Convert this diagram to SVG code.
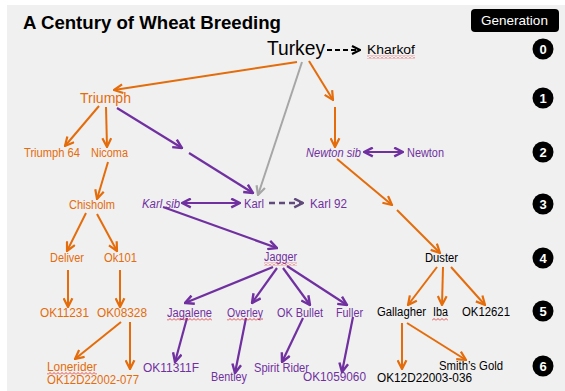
<svg xmlns="http://www.w3.org/2000/svg" width="565" height="391" viewBox="0 0 565 391">
<style>
text{font-family:"Liberation Sans",Arial,sans-serif;}
.t{font-size:12px;}
.o{fill:#E46C0A;}
.p{fill:#7030A0;}
.k{fill:#000;}
.i{font-style:italic;}
.lo{stroke:#E46C0A;stroke-width:2;fill:none;marker-end:url(#mo);}
.lp{stroke:#7030A0;stroke-width:2.2;fill:none;marker-end:url(#mp);}
.lpd{stroke:#7030A0;stroke-width:2.2;fill:none;marker-start:url(#mp);marker-end:url(#mp);}
.num{font-size:13px;font-weight:bold;fill:#fff;text-anchor:middle;}
.sq{fill:url(#squig);}
</style>
<defs>
<marker id="mo" viewBox="0 0 10 10" refX="9" refY="5" markerWidth="11" markerHeight="11" markerUnits="userSpaceOnUse" orient="auto-start-reverse"><path d="M1,1 L9,5 L1,9" fill="none" stroke="#E46C0A" stroke-width="2"/></marker>
<marker id="mp" viewBox="0 0 10 10" refX="9" refY="5" markerWidth="11" markerHeight="11" markerUnits="userSpaceOnUse" orient="auto-start-reverse"><path d="M1,1 L9,5 L1,9" fill="none" stroke="#7030A0" stroke-width="2.2"/></marker>
<marker id="mg" viewBox="0 0 10 10" refX="9" refY="5" markerWidth="11" markerHeight="11" markerUnits="userSpaceOnUse" orient="auto"><path d="M1,1 L9,5 L1,9" fill="none" stroke="#A6A6A6" stroke-width="2"/></marker>
<marker id="mk" viewBox="0 0 10 10" refX="9" refY="5" markerWidth="10" markerHeight="10" markerUnits="userSpaceOnUse" orient="auto"><path d="M1,1 L9,5 L1,9" fill="none" stroke="#000" stroke-width="2.2"/></marker>
<marker id="md" viewBox="0 0 10 10" refX="9" refY="5" markerWidth="11" markerHeight="11" markerUnits="userSpaceOnUse" orient="auto"><path d="M1,1 L9,5 L1,9" fill="none" stroke="#604A7B" stroke-width="2.2"/></marker>
<pattern id="squig" patternUnits="userSpaceOnUse" width="4" height="3"><path d="M0,2.5 L2,0.5 L4,2.5" fill="none" stroke="#E02020" stroke-width="0.8"/></pattern>
</defs>
<rect x="0" y="0" width="565" height="391" fill="#fff"/>
<rect x="7" y="5" width="558" height="386" fill="#F0F0F0"/>
<text x="23" y="29" font-size="18.5" font-weight="bold" textLength="258" lengthAdjust="spacingAndGlyphs">A Century of Wheat Breeding</text>
<g id="generation">
<rect x="471" y="9" width="88" height="23" rx="4" fill="#000"/>
<text x="514.5" y="25" font-size="13.5" fill="#fff" text-anchor="middle">Generation</text>
<circle cx="543" cy="49" r="10.5" fill="#000"/><text class="num" x="543" y="53.5">0</text>
<circle cx="543" cy="98" r="10.5" fill="#000"/><text class="num" x="543" y="102.5">1</text>
<circle cx="543" cy="152" r="10.5" fill="#000"/><text class="num" x="543" y="156.5">2</text>
<circle cx="543" cy="204" r="10.5" fill="#000"/><text class="num" x="543" y="208.5">3</text>
<circle cx="543" cy="258" r="10.5" fill="#000"/><text class="num" x="543" y="262.5">4</text>
<circle cx="543" cy="311" r="10.5" fill="#000"/><text class="num" x="543" y="315.5">5</text>
<circle cx="543" cy="366" r="10.5" fill="#000"/><text class="num" x="543" y="370.5">6</text>
</g>
<g id="connectors">
<line x1="327" y1="50" x2="360" y2="50" stroke="#000" stroke-width="2.2" stroke-dasharray="5,3" marker-end="url(#mk)"/>
<line x1="302" y1="62" x2="258" y2="195" stroke="#A6A6A6" stroke-width="2" marker-end="url(#mg)"/>
<line class="lo" x1="297" y1="62" x2="114" y2="90"/>
<line class="lo" x1="309" y1="61" x2="333" y2="100"/>
<line class="lo" x1="335" y1="107" x2="335" y2="147"/>
<line class="lo" x1="99" y1="106" x2="65" y2="146"/>
<line class="lo" x1="106" y1="107" x2="107" y2="147"/>
<line class="lo" x1="108" y1="162" x2="97" y2="199"/>
<line class="lo" x1="86" y1="213" x2="67" y2="251"/>
<line class="lo" x1="97" y1="214" x2="117" y2="251"/>
<line class="lo" x1="68" y1="270" x2="68" y2="307"/>
<line class="lo" x1="120" y1="270" x2="120" y2="307"/>
<line class="lo" x1="121" y1="322" x2="75" y2="359"/>
<line class="lo" x1="130" y1="322" x2="130" y2="369"/>
<line class="lo" x1="337" y1="159" x2="392" y2="205"/>
<line class="lo" x1="397" y1="210" x2="440" y2="253"/>
<line class="lo" x1="437" y1="267" x2="408" y2="305"/>
<line class="lo" x1="443" y1="267" x2="442" y2="305"/>
<line class="lo" x1="451" y1="267" x2="485" y2="305"/>
<line class="lo" x1="402" y1="323" x2="402" y2="369"/>
<line class="lo" x1="407" y1="323" x2="466" y2="360"/>
<line class="lp" x1="117" y1="108" x2="182" y2="148"/>
<line class="lp" x1="189" y1="153" x2="253" y2="193"/>
<line class="lpd" x1="182" y1="203" x2="240" y2="203"/>
<line x1="269" y1="203" x2="303" y2="203" stroke="#604A7B" stroke-width="2.4" stroke-dasharray="6,4" marker-end="url(#md)"/>
<line class="lp" x1="163" y1="207" x2="277" y2="248"/>
<line class="lpd" x1="364" y1="152" x2="403" y2="152"/>
<line class="lp" x1="273" y1="267" x2="185" y2="303"/>
<line class="lp" x1="277" y1="268" x2="252" y2="303"/>
<line class="lp" x1="283" y1="268" x2="310" y2="305"/>
<line class="lp" x1="287" y1="266" x2="347" y2="305"/>
<line class="lp" x1="187" y1="318" x2="175" y2="362"/>
<line class="lp" x1="246" y1="318" x2="235" y2="373"/>
<line class="lp" x1="303" y1="318" x2="282" y2="362"/>
<line class="lp" x1="353" y1="317" x2="342" y2="372"/>
</g>
<g id="n-turkey"><text class="k" x="267" y="55" font-size="19.5" textLength="58" lengthAdjust="spacingAndGlyphs">Turkey</text></g>
<g id="n-kharkof"><text class="k" x="367" y="54" font-size="12.5" textLength="48" lengthAdjust="spacingAndGlyphs">Kharkof</text><rect class="sq" x="367" y="55.5" width="48" height="3"/></g>
<g id="n-triumph"><text class="o" x="80" y="103" font-size="14" textLength="51" lengthAdjust="spacingAndGlyphs">Triumph</text></g>
<g id="n-triumph64"><text class="t o" x="24" y="157" textLength="56" lengthAdjust="spacingAndGlyphs">Triumph 64</text></g>
<g id="n-nicoma"><text class="t o" x="91" y="157" textLength="37" lengthAdjust="spacingAndGlyphs">Nicoma</text></g>
<g id="n-newtonsib"><text class="t p i" x="306" y="156.5" textLength="55" lengthAdjust="spacingAndGlyphs">Newton sib</text></g>
<g id="n-newton"><text class="t p" x="407" y="156.5" textLength="37" lengthAdjust="spacingAndGlyphs">Newton</text></g>
<g id="n-chisholm"><text class="t o" x="69" y="209" textLength="46" lengthAdjust="spacingAndGlyphs">Chisholm</text></g>
<g id="n-karlsib"><text class="t p i" x="142" y="208" textLength="38" lengthAdjust="spacingAndGlyphs">Karl sib</text></g>
<g id="n-karl"><text class="t p" x="244" y="208" textLength="20" lengthAdjust="spacingAndGlyphs">Karl</text></g>
<g id="n-karl92"><text class="t p" x="310" y="208" textLength="37" lengthAdjust="spacingAndGlyphs">Karl 92</text></g>
<g id="n-deliver"><text class="t o" x="50" y="262" textLength="34" lengthAdjust="spacingAndGlyphs">Deliver</text></g>
<g id="n-ok101"><text class="t o" x="104" y="262" textLength="33" lengthAdjust="spacingAndGlyphs">Ok101</text></g>
<g id="n-jagger"><text class="t p" x="264" y="261" textLength="33" lengthAdjust="spacingAndGlyphs">Jagger</text><rect class="sq" x="264" y="262.5" width="33" height="3"/></g>
<g id="n-duster"><text class="t k" x="425" y="262" textLength="33" lengthAdjust="spacingAndGlyphs">Duster</text></g>
<g id="n-ok11231"><text class="t o" x="40" y="316.5" textLength="49" lengthAdjust="spacingAndGlyphs">OK11231</text></g>
<g id="n-ok08328"><text class="t o" x="97" y="316.5" textLength="50" lengthAdjust="spacingAndGlyphs">OK08328</text></g>
<g id="n-jagalene"><text class="t p" x="167" y="316.5" textLength="45" lengthAdjust="spacingAndGlyphs">Jagalene</text><rect class="sq" x="167" y="318" width="45" height="3"/></g>
<g id="n-overley"><text class="t p" x="227" y="316.5" textLength="36" lengthAdjust="spacingAndGlyphs">Overley</text><rect class="sq" x="227" y="318" width="36" height="3"/></g>
<g id="n-okbullet"><text class="t p" x="277" y="316.5" textLength="46" lengthAdjust="spacingAndGlyphs">OK Bullet</text></g>
<g id="n-fuller"><text class="t p" x="336" y="316.5" textLength="27" lengthAdjust="spacingAndGlyphs">Fuller</text></g>
<g id="n-gallagher"><text class="t k" x="377" y="316" textLength="49" lengthAdjust="spacingAndGlyphs">Gallagher</text></g>
<g id="n-iba"><text class="t k" x="433" y="316" textLength="15" lengthAdjust="spacingAndGlyphs">Iba</text><rect class="sq" x="432" y="318" width="16" height="3"/></g>
<g id="n-ok12621"><text class="t k" x="462" y="316" textLength="48" lengthAdjust="spacingAndGlyphs">OK12621</text></g>
<g id="n-lonerider"><text class="t o" x="47" y="370.5" textLength="50" lengthAdjust="spacingAndGlyphs">Lonerider</text><rect class="sq" x="47" y="372" width="50" height="3"/></g>
<g id="n-ok12d22002"><text class="t o" x="47" y="383.5" textLength="92" lengthAdjust="spacingAndGlyphs">OK12D22002-077</text></g>
<g id="n-ok11311f"><text class="t p" x="143" y="371.5" textLength="56" lengthAdjust="spacingAndGlyphs">OK11311F</text></g>
<g id="n-bentley"><text class="t p" x="211" y="381" textLength="36" lengthAdjust="spacingAndGlyphs">Bentley</text></g>
<g id="n-spiritrider"><text class="t p" x="254" y="371.5" textLength="55" lengthAdjust="spacingAndGlyphs">Spirit Rider</text></g>
<g id="n-ok1059060"><text class="t p" x="303" y="381" textLength="63" lengthAdjust="spacingAndGlyphs">OK1059060</text></g>
<g id="n-smithsgold"><text class="t k" x="439" y="370" textLength="64" lengthAdjust="spacingAndGlyphs">Smith’s Gold</text></g>
<g id="n-ok12d22003"><text class="t k" x="377" y="381.5" textLength="95" lengthAdjust="spacingAndGlyphs">OK12D22003-036</text></g>
</svg>
